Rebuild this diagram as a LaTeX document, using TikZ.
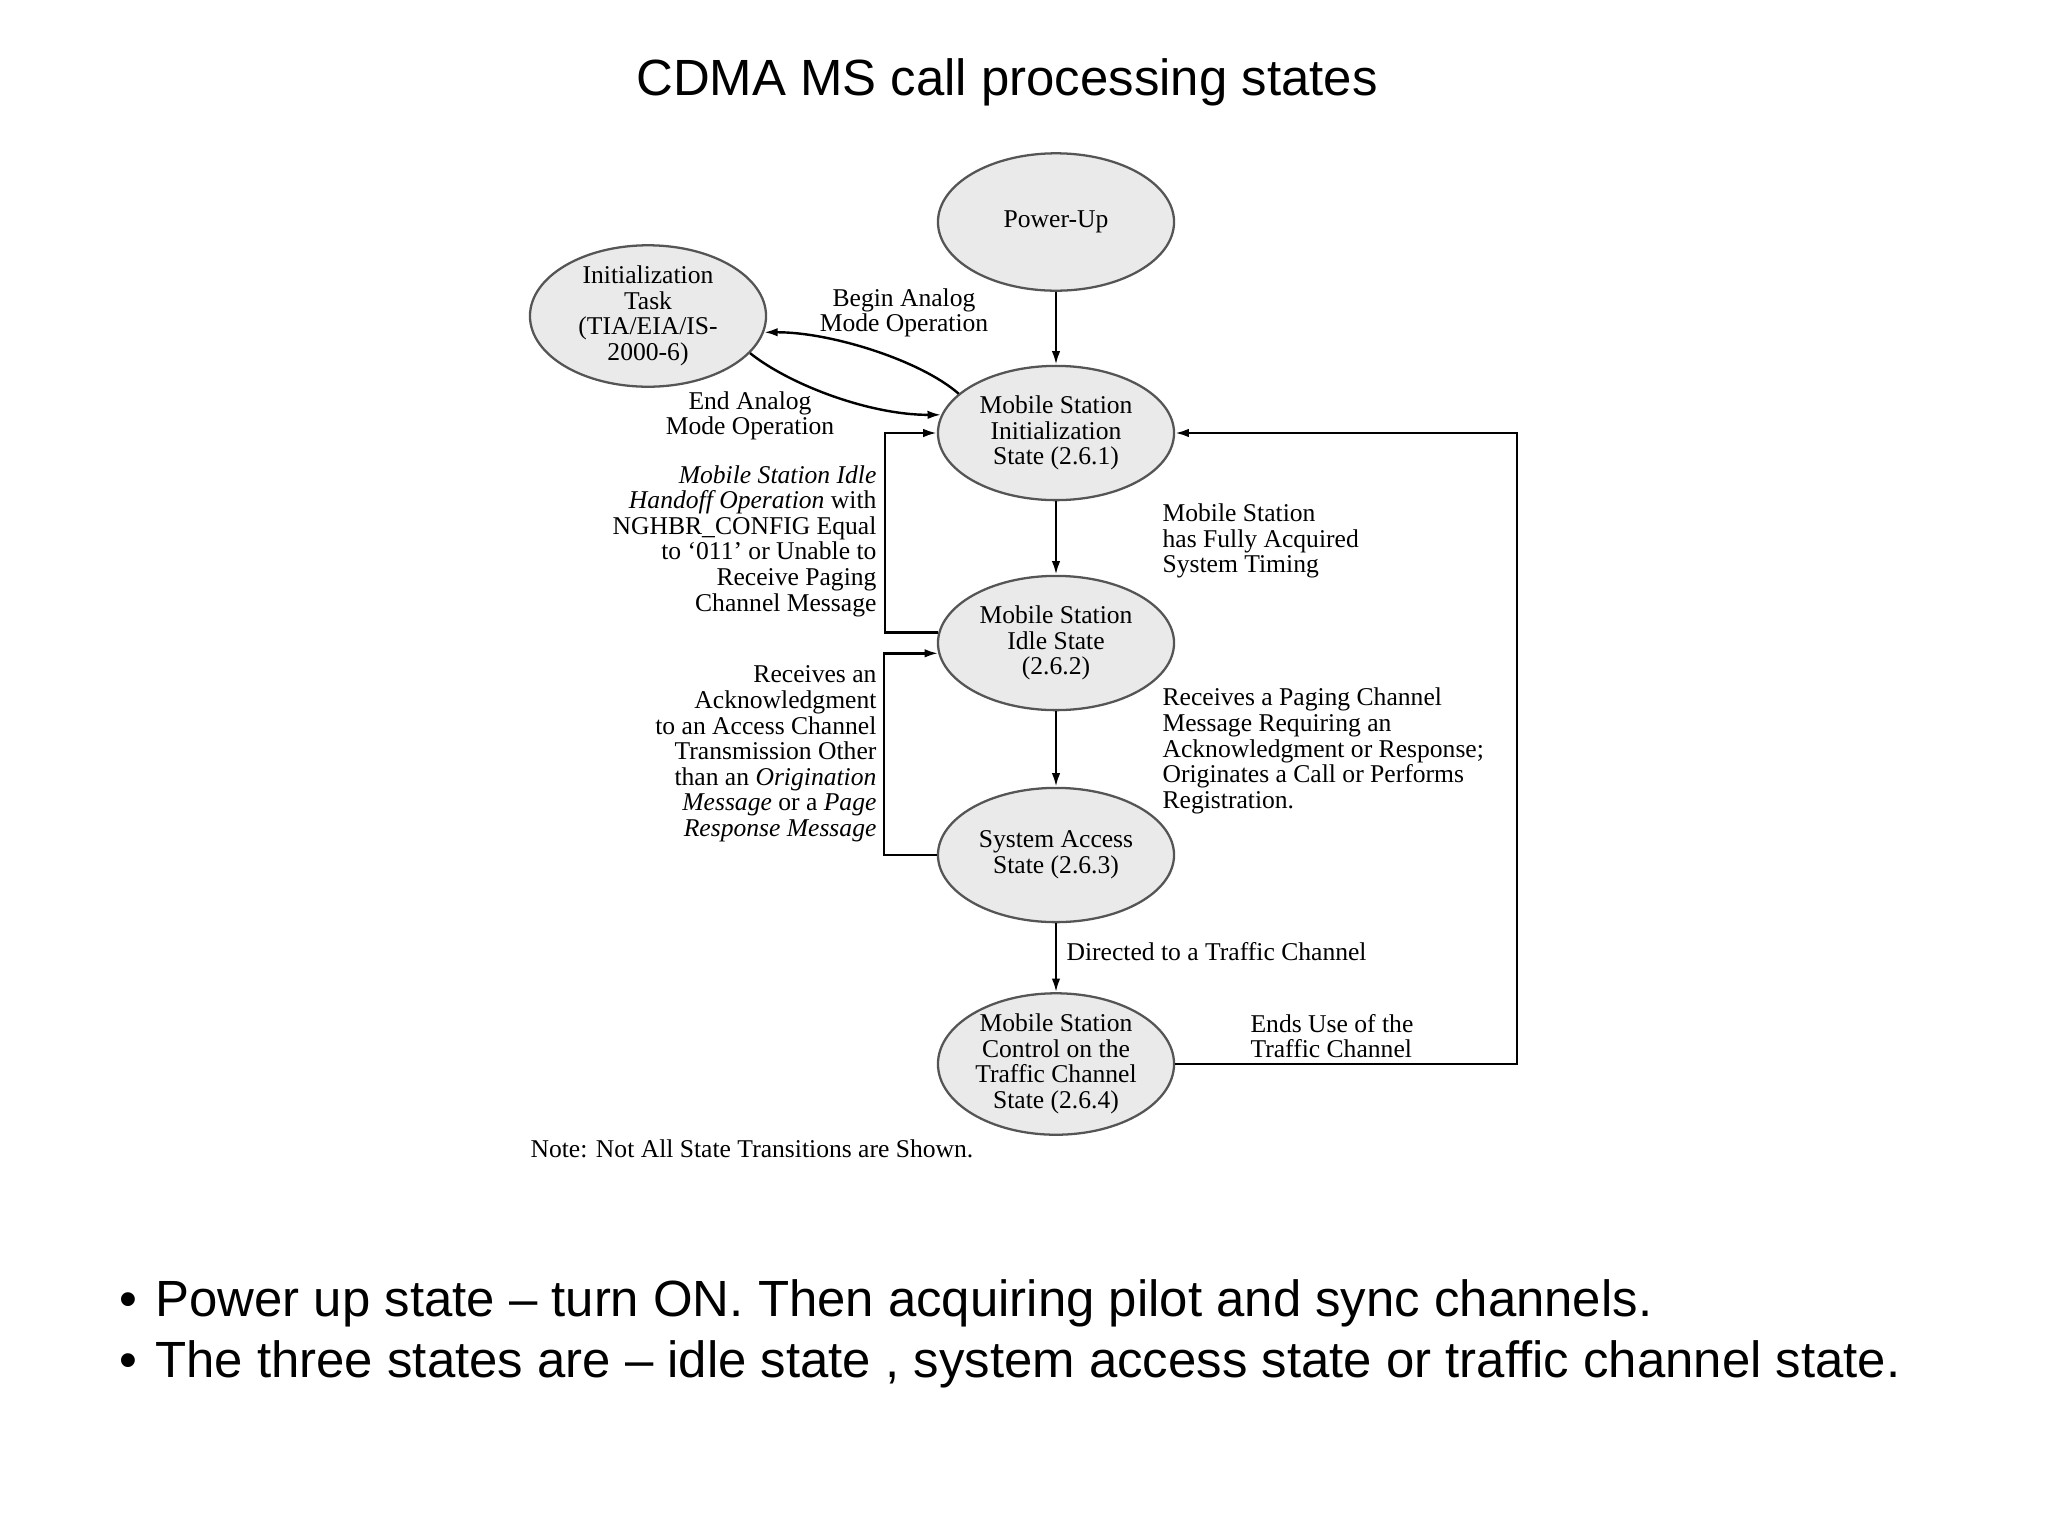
\documentclass[tikz,border=0pt]{standalone}
\usepackage{fontspec}
\setmainfont{Liberation Serif}
\newfontfamily\slidefont{Liberation Sans}
\usetikzlibrary{shapes.geometric,arrows.meta}

\definecolor{stategrey}{RGB}{234,234,234}
\definecolor{rimgrey}{RGB}{85,85,85}

\begin{document}
\begin{tikzpicture}[x=0.3516pt,y=0.3516pt,yscale=-1,xscale=1,
    state/.style={ellipse,draw=rimgrey,fill=stategrey,line width=0.8pt,minimum width=83pt,minimum height=47.2pt,inner sep=0pt,align=center,font=\fontsize{9}{9}\selectfont},
    lbl/.style={inner sep=0pt,font=\fontsize{9}{9}\selectfont},
    flow/.style={line width=0.85pt,-{Latex[length=4.8pt,width=3pt]}},
    slide/.style={inner sep=0pt,font=\slidefont\fontsize{17.9}{21.5}\selectfont}]
                  \useasboundingbox (0,0) rectangle (2048,1536);

                  % Text Node
                  \node [slide, anchor=base] (title) at (1007,95) {CDMA MS call processing states};

                  %Shape: Ellipse
                  \node [state, minimum height=48.3pt] (pwr) at (1056,222) {Power-Up};
                  %Shape: Ellipse
                  \node [state, minimum height=46.4pt] (task) at (648,316) {Initialization\\Task\\(TIA/EIA/IS-\\2000-6)};
                  %Shape: Ellipse
                  \node [state] (init) at (1056,433) {Mobile Station\\Initialization\\State (2.6.1)};
                  %Shape: Ellipse
                  \node [state] (idle) at (1056,643) {Mobile Station\\Idle State\\(2.6.2)};
                  %Shape: Ellipse
                  \node [state] (acc) at (1056,855) {System Access\\State (2.6.3)};
                  %Shape: Ellipse
                  \node [state, minimum height=48pt] (tch) at (1056,1064) {Mobile Station\\Control on the\\Traffic Channel\\State (2.6.4)};

                  %Straight Lines
                  \draw [flow] (pwr) -- (init);
                  \draw [flow] (init) -- (idle);
                  \draw [flow] (idle) -- (acc);
                  \draw [flow] (acc) -- (tch);
                  %Curve Lines
                  \draw [flow] (init.158) .. controls (920,360) and (830,332) .. (task.-8);
                  \draw [flow] (task.-20) .. controls (790,385) and (870,415) .. (init.171);
                  %Elbow Lines
                  \draw [flow] (idle.175) -- ++(-53,0) |- (init.west);
                  \draw [flow] (acc.west) -- ++(-53,0) |- (idle.185);
                  \draw [flow] (tch.east) -- ++(342,0) |- (init.east);

                  % Text Node
                  \node [lbl, align=center] (begin) at (904,313) {Begin Analog\\Mode Operation};
                  % Text Node
                  \node [lbl, align=center] (endan) at (750,416) {End Analog\\Mode Operation};
                  % Text Node
                  \node [lbl, align=right, anchor=east] (handoff) at (877,541) {\textit{Mobile Station Idle}\\\textit{Handoff Operation} with\\NGHBR\_CONFIG Equal\\to `011' or Unable to\\Receive Paging\\Channel Message};
                  % Text Node
                  \node [lbl, align=right, anchor=east] (ackn) at (877,754) {Receives an\\Acknowledgment\\to an Access Channel\\Transmission Other\\than an \textit{Origination}\\\textit{Message} or a \textit{Page}\\\textit{Response Message}};
                  % Text Node
                  \node [lbl, align=left, anchor=west] (timing) at (1162,541) {Mobile Station\\has Fully Acquired\\System Timing};
                  % Text Node
                  \node [lbl, align=left, anchor=west] (paging) at (1162,751) {Receives a Paging Channel\\Message Requiring an\\Acknowledgment or Response;\\Originates a Call or Performs\\Registration.};
                  % Text Node
                  \node [lbl, anchor=west] (directed) at (1066,952) {Directed to a Traffic Channel};
                  % Text Node
                  \node [lbl, align=left, anchor=west] (ends) at (1250,1036) {Ends Use of the\\Traffic Channel};
                  % Text Node
                  \node [lbl, anchor=west] (note) at (530,1149) {Note: Not All State Transitions are Shown.};

                  % Text Node
                  \node [slide, anchor=base west] (bullA) at (119,1316) {\makebox[12.6pt][l]{\textbullet}Power up state \textendash{} turn ON. Then acquiring pilot and sync channels.};
                  % Text Node
                  \node [slide, anchor=base west] (bullB) at (119,1377) {\makebox[12.6pt][l]{\textbullet}The three states are \textendash{} idle state , system access state or traffic channel state.};

\end{tikzpicture}
\end{document}
